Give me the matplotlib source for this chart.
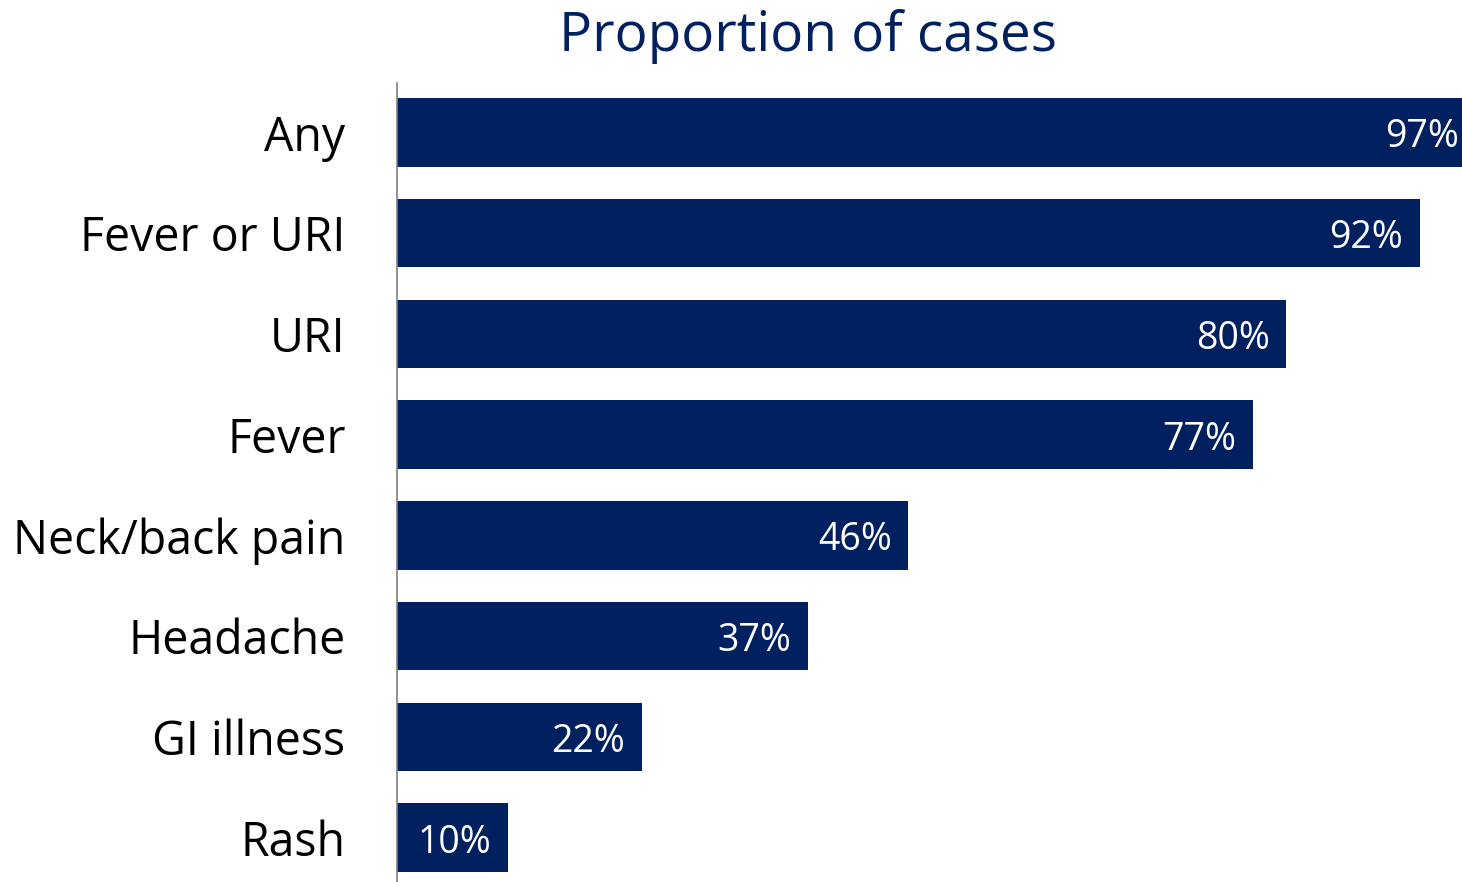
import matplotlib
matplotlib.use("Agg")
import matplotlib.pyplot as plt

categories = ["Any", "Fever or URI", "URI", "Fever", "Neck/back pain",
              "Headache", "GI illness", "Rash"]
values = [97, 92, 80, 77, 46, 37, 22, 10]

navy = "#002060"
plt.rcParams["font.family"] = ["Open Sans", "DejaVu Sans"]

fig = plt.figure(figsize=(14.62, 8.82), dpi=100)
ax = fig.add_axes([397 / 1462, 0, (1462 - 397) / 1462, (882 - 83) / 882])

ypos = list(range(len(categories)))
ax.barh(ypos, values, height=0.68, color=navy)
ax.set_xlim(0, 95.8)
ax.set_ylim(7.44, -0.49)

for y, v in zip(ypos, values):
    ax.text(v - 1.5, y + 0.05, f"{v}%", ha="right", va="center",
            color="white", fontsize=27, clip_on=False)

ax.set_yticks(ypos)
ax.set_yticklabels(categories, fontsize=33.5)
ax.tick_params(axis="y", length=0, pad=37)
ax.set_xticks([])
for s in ["top", "right", "bottom"]:
    ax.spines[s].set_visible(False)
ax.spines["left"].set_color("#808080")
ax.spines["left"].set_linewidth(1.2)

fig.text(808 / 1462, 1 - 37 / 882, "Proportion of cases", ha="center",
         va="center", color=navy, fontsize=39.5)

fig.savefig("out.png", dpi=100)
